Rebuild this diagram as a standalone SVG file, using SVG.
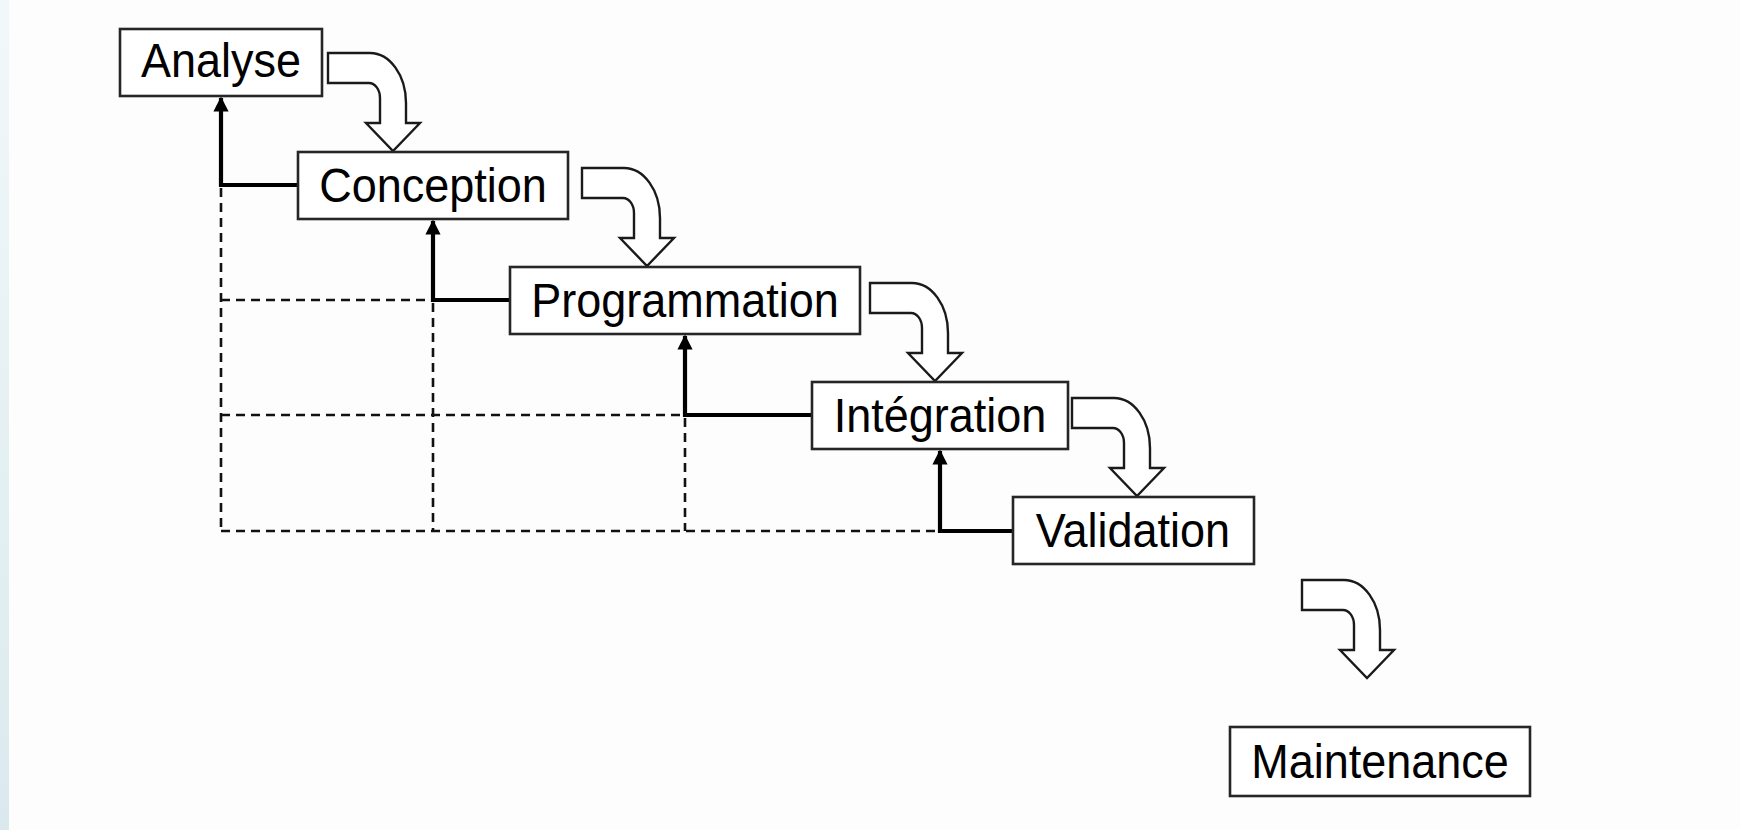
<svg xmlns="http://www.w3.org/2000/svg" width="1740" height="830" viewBox="0 0 1740 830">
  <defs>
    <linearGradient id="side" x1="0" y1="0" x2="0" y2="1">
      <stop offset="0" stop-color="#f1f8f9"/>
      <stop offset="1" stop-color="#dbe9ee"/>
    </linearGradient>
    <path id="curl" d="M0,0 H42 A36,50 0 0 1 78,50 V70 H92 L65,98 L38,70 H52 V45 A11,15 0 0 0 41,30 H0 Z"/>
    <marker id="ah" viewBox="0 0 10 10" refX="9" refY="5" markerWidth="4" markerHeight="3.6" orient="auto" markerUnits="strokeWidth">
      <path d="M0,0 L10,5 L0,10 Z" fill="#000"/>
    </marker>
  </defs>
  <style>
    .box { fill: #ffffff; stroke: #262626; stroke-width: 2.6; }
    .lbl { font-family: "Liberation Sans", Arial, sans-serif; font-size: 45px; fill: #000; text-anchor: middle; }
    .curl { fill: #ffffff; stroke: #1a1a1a; stroke-width: 2.4; stroke-linejoin: miter; }
    .fb { fill: none; stroke: #000; stroke-width: 4.2; }
    .dash { fill: none; stroke: #111; stroke-width: 2.6; stroke-dasharray: 9 6; }
  </style>

  <rect x="0" y="0" width="1740" height="830" fill="#fdfdfd"/>
  <rect x="0" y="0" width="9" height="830" fill="url(#side)"/>

  <g id="connectors">
    <path class="dash" d="M221,188 V531"/>
    <path class="dash" d="M221,300 H433"/>
    <path class="dash" d="M433,303 V531"/>
    <path class="dash" d="M221,415 H685"/>
    <path class="dash" d="M685,418 V531"/>
    <path class="dash" d="M221,531 H940"/>
    <path class="fb" d="M298,185 H221 V98" marker-end="url(#ah)"/>
    <path class="fb" d="M510,300 H433 V221" marker-end="url(#ah)"/>
    <path class="fb" d="M812,415 H685 V336" marker-end="url(#ah)"/>
    <path class="fb" d="M1013,531 H940 V451" marker-end="url(#ah)"/>
    <use href="#curl" class="curl" transform="translate(328,53)"/>
    <use href="#curl" class="curl" transform="translate(582,168)"/>
    <use href="#curl" class="curl" transform="translate(870,283)"/>
    <use href="#curl" class="curl" transform="translate(1072,398)"/>
    <use href="#curl" class="curl" transform="translate(1302,580)"/>
  </g>

  <g id="analyse">
    <rect class="box" x="120" y="29" width="202" height="67"/>
    <text class="lbl" transform="translate(221,77) scale(1,1.06)">Analyse</text>
  </g>
  <g id="conception">
    <rect class="box" x="298" y="152" width="270" height="67"/>
    <text class="lbl" transform="translate(433,202) scale(1,1.06)">Conception</text>
  </g>
  <g id="programmation">
    <rect class="box" x="510" y="267" width="350" height="67"/>
    <text class="lbl" transform="translate(685,317) scale(1,1.06)">Programmation</text>
  </g>
  <g id="integration">
    <rect class="box" x="812" y="382" width="256" height="67"/>
    <text class="lbl" transform="translate(940,432) scale(1,1.06)">Intégration</text>
  </g>
  <g id="validation">
    <rect class="box" x="1013" y="497" width="241" height="67"/>
    <text class="lbl" transform="translate(1133,547) scale(1,1.06)">Validation</text>
  </g>
  <g id="maintenance">
    <rect class="box" x="1230" y="727" width="300" height="69"/>
    <text class="lbl" transform="translate(1380,778) scale(1,1.06)">Maintenance</text>
  </g>
</svg>
